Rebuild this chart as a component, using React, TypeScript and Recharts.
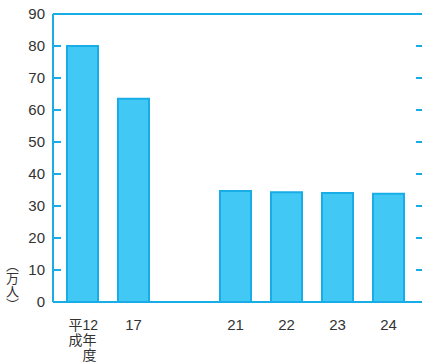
import { BarChart, Bar, XAxis, YAxis, ReferenceLine } from "recharts";

// 年度 (平成), one empty slot between 17 and 21
const years = ["12", "17", "", "21", "22", "23", "24"];
const visitors = [80, 63.5, null, 34.7, 34.3, 34.1, 33.8];
const yTicks = [0, 10, 20, 30, 40, 50, 60, 70, 80, 90];
const unitLabel = "（万人）";

const data = years.map((y, i) => ({ year: y, value: visitors[i] }));

const CHART_W = 422;
const CHART_H = 363;
const BLUE = "#18ade6";
const FILL = "#42c8f4";
const TEXT = "#333";
const FONT = "'Liberation Sans Narrow', 'Liberation Sans', 'Noto Sans CJK JP', sans-serif";

const LeftTick = (props: any) => {
  const { x, y, payload } = props;
  return (
    <g>
      <line x1={x + 8} x2={x + 16} y1={y} y2={y} stroke={BLUE} strokeWidth={2} />
      {/* matching short tick on the right edge */}
      <line x1={CHART_W - 6} x2={CHART_W} y1={y} y2={y} stroke={BLUE} strokeWidth={2} />
      <text x={x} y={y} dy={5} textAnchor="end" fill={TEXT} fontSize={15} fontFamily={FONT}>
        {payload.value}
      </text>
    </g>
  );
};

const YearTick = (props: any) => {
  const { x, y, payload } = props;
  if (payload.value === "12") {
    return (
      <g fill={TEXT} fontSize={14} fontFamily={FONT}>
        <text x={x - 14} y={y + 28}>平12</text>
        <text x={x - 14} y={y + 43}>成年</text>
        <text x={x} y={y + 58}>度</text>
      </g>
    );
  }
  return (
    <text x={x} y={y + 28} textAnchor="middle" fill={TEXT} fontSize={15} fontFamily={FONT}>
      {payload.value}
    </text>
  );
};

export default function App() {
  return (
    <div style={{ position: "absolute", left: 0, top: 0, width: CHART_W, height: CHART_H, background: "#fff" }}>
      <BarChart
        width={CHART_W}
        height={CHART_H}
        data={data}
        margin={{ top: 14, right: 1, bottom: 0, left: 0 }}
        barSize={31}
      >
        <XAxis
          dataKey="year"
          height={61}
          axisLine={{ stroke: BLUE, strokeWidth: 2 }}
          tickLine={false}
          tickSize={0}
          tickMargin={0}
          padding={{ left: 4, right: 7 }}
          tick={<YearTick />}
          interval={0}
        />
        <YAxis
          width={53}
          domain={[0, 90]}
          ticks={yTicks}
          axisLine={{ stroke: BLUE, strokeWidth: 2 }}
          tickLine={false}
          tickSize={0}
          tickMargin={8}
          tick={<LeftTick />}
          interval={0}
        />
        <ReferenceLine y={90} stroke={BLUE} strokeWidth={2} />
        <Bar dataKey="value" fill={FILL} stroke={BLUE} strokeWidth={2} isAnimationActive={false} />
      </BarChart>
      <div
        style={{
          position: "absolute",
          left: 6,
          top: 259,
          writingMode: "vertical-rl",
          fontSize: 13,
          lineHeight: 1,
          color: TEXT,
          fontFamily: "'Noto Sans CJK JP', sans-serif",
        }}
      >
        {unitLabel}
      </div>
    </div>
  );
}
